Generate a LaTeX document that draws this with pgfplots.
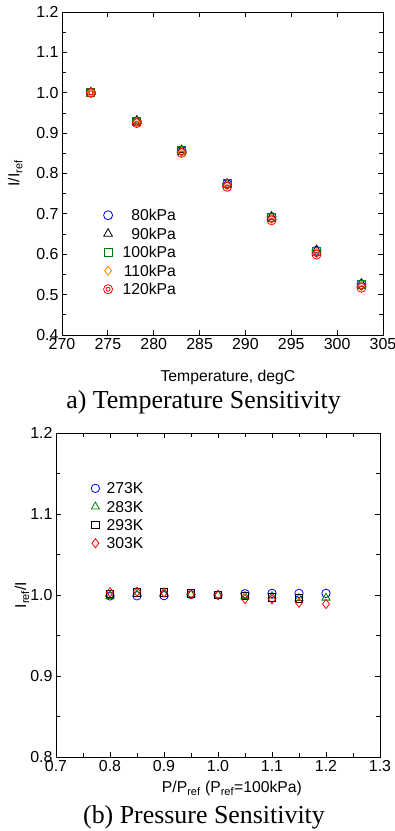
\documentclass[border=0pt]{standalone}
\usepackage{fontspec}
\setmainfont{Liberation Sans}
\newfontfamily\capfont{Liberation Serif}
\usepackage{pgfplots}
\pgfplotsset{compat=1.18}
\definecolor{mblue}{RGB}{0,0,255}
\definecolor{mgreen}{RGB}{0,128,0}
\definecolor{morange}{RGB}{255,128,0}
\definecolor{mred}{RGB}{255,0,0}
\pgfdeclareplotmark{dcirc}{%
  \pgfpathcircle{\pgfpointorigin}{\pgfplotmarksize}\pgfusepathqstroke
  \pgfpathcircle{\pgfpointorigin}{0.45\pgfplotmarksize}\pgfusepathqstroke}
\pgfplotsset{
  common/.style={
    scale only axis,
    anchor=south west,
    tick align=inside,
    major tick length=5bp,
    minor tick length=4bp,
    axis line style={line width=0.9bp},
    every tick/.style={line width=0.8bp,black},
    tick label style={font=\fontsize{16}{18}\selectfont},
    label style={font=\fontsize{15.8}{18}\selectfont},
    /pgf/number format/assume math mode=true,
    legend cell align=right,
    legend image code/.code={\draw[#1,only marks] plot coordinates {(0bp,0bp)};},
    every axis plot/.append style={only marks, mark options={line width=0.8bp, fill=none}},
  }
}
\begin{document}
\begin{tikzpicture}
\useasboundingbox (0,0) rectangle (395bp,831bp);
\begin{axis}[common,
  at={(62bp,496bp)}, width=321bp, height=323bp,
  xmin=270, xmax=305, ymin=0.4, ymax=1.2,
  xtick distance=5, ytick distance=0.1, minor y tick num=1,
  yticklabel style={/pgf/number format/.cd,fixed,fixed zerofill,precision=1},
  xlabel={Temperature, degC},
  ylabel={I/I\textsubscript{ref}},
  xlabel style={at={(axis description cs:0.517,-0.130)},anchor=center},
  ylabel style={at={(axis description cs:-0.146,0.5)},anchor=center},
  legend style={draw=none, fill=none, at={(axis description cs:0.129,0.400)}, anchor=north west,
    inner sep=0pt, row sep=0pt, column sep=8bp,
    font=\fontsize{15.8}{18}\selectfont,
    nodes={text height=11bp, text depth=0bp, inner ysep=3.75bp, inner xsep=2bp}},
]
\addplot[mblue, mark=o, mark size=4.5bp] coordinates {(273.15,1.000) (278.15,0.929) (283.05,0.856) (288.0,0.774) (292.85,0.692) (297.75,0.609) (302.65,0.526)};
\addlegendentry{80kPa}
\addplot[black, mark=triangle, mark size=5bp] coordinates {(273.15,1.001) (278.15,0.931) (283.05,0.858) (288.0,0.775) (292.85,0.693) (297.75,0.610) (302.65,0.527)};
\addlegendentry{90kPa}
\addplot[mgreen, mark=square, mark size=4bp] coordinates {(273.15,1.000) (278.15,0.929) (283.05,0.856) (288.0,0.775) (292.85,0.692) (297.75,0.608) (302.65,0.526)};
\addlegendentry{100kPa}
\addplot[morange, mark=diamond, mark size=4.5bp] coordinates {(273.15,1.000) (278.15,0.927) (283.05,0.853) (288.0,0.771) (292.85,0.688) (297.75,0.603) (302.65,0.521)};
\addlegendentry{110kPa}
\addplot[mred, mark=dcirc, mark size=4.5bp] coordinates {(273.15,1.000) (278.15,0.925) (283.05,0.851) (288.0,0.767) (292.85,0.684) (297.75,0.599) (302.65,0.517)};
\addlegendentry{120kPa}
\end{axis}
\node[font=\capfont\fontsize{26}{30}\selectfont] at (203.5bp,429bp) {a) Temperature Sensitivity};

\begin{axis}[common,
  at={(56bp,74bp)}, width=324bp, height=324bp,
  xmin=0.7, xmax=1.3, ymin=0.8, ymax=1.2,
  xtick distance=0.1, ytick distance=0.1, minor x tick num=1, minor y tick num=1,
  xticklabel style={/pgf/number format/.cd,fixed,fixed zerofill,precision=1},
  yticklabel style={/pgf/number format/.cd,fixed,fixed zerofill,precision=1},
  xlabel={P/P\textsubscript{ref} (P\textsubscript{ref}=100kPa)},
  ylabel={I\textsubscript{ref}/I},
  xlabel style={at={(axis description cs:0.543,-0.0957)},anchor=center},
  ylabel style={at={(axis description cs:-0.105,0.5)},anchor=center},
  legend cell align=left,
  legend style={draw=none, fill=none, at={(axis description cs:0.108,0.858)}, anchor=north west,
    inner sep=0pt, row sep=0pt, column sep=5bp,
    font=\fontsize{15.8}{18}\selectfont,
    nodes={text height=11bp, text depth=0bp, inner ysep=3.65bp, inner xsep=2bp}},
]
\addplot[mblue, mark=o, mark size=4.2bp] coordinates {(0.80,0.9988) (0.85,0.9990) (0.90,0.9992) (0.95,1.0005) (1.00,1.0000) (1.05,1.0016) (1.10,1.0020) (1.15,1.0020) (1.20,1.0020)};
\addlegendentry{273K}
\addplot[mgreen, mark=triangle, mark size=4.6bp] coordinates {(0.80,0.9985) (0.85,1.0010) (0.90,1.0010) (0.95,1.0005) (1.00,1.0000) (1.05,0.9985) (1.10,0.9982) (1.15,0.9960) (1.20,0.9965)};
\addlegendentry{283K}
\addplot[black, mark=square, mark size=3.7bp] coordinates {(0.80,1.0016) (0.85,1.0030) (0.90,1.0030) (0.95,1.0020) (1.00,1.0000) (1.05,0.9990) (1.10,0.9970) (1.15,0.9960)};
\addlegendentry{293K}
\addplot[mred, mark=diamond, mark size=4.6bp] coordinates {(0.80,1.0033) (0.85,1.0040) (0.90,1.0030) (0.95,1.0010) (1.00,1.0000) (1.05,0.9950) (1.10,0.9947) (1.15,0.9905) (1.20,0.9890)};
\addlegendentry{303K}
\end{axis}
\node[font=\capfont\fontsize{26}{30}\selectfont] at (204bp,14bp) {(b) Pressure Sensitivity};
\end{tikzpicture}
\end{document}
